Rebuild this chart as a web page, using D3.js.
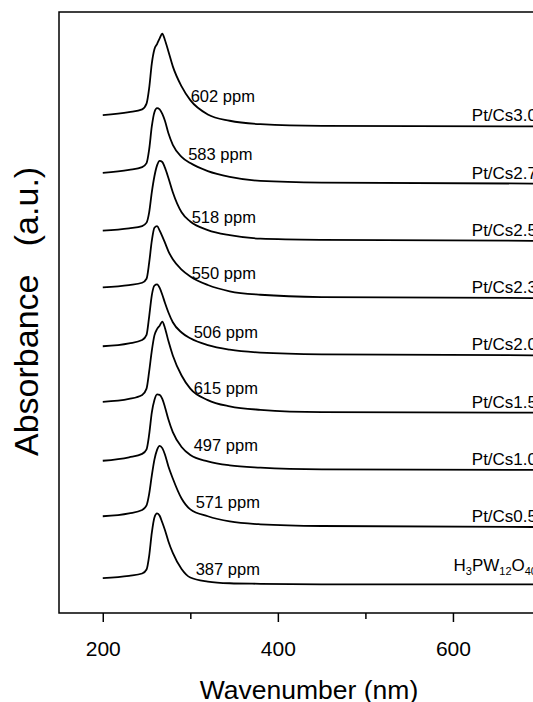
<!DOCTYPE html>
<html>
<head>
<meta charset="utf-8">
<title>UV-vis spectra</title>
<script src="https://d3js.org/d3.v7.min.js"></script>
<style>
  body { margin: 0; background: #fff; }
  text { font-family: "Liberation Sans", Arial, Helvetica, sans-serif; fill: #000; }
</style>
</head>
<body>
<svg id="chart" width="533" height="702"></svg>
<script>
// wavelength grid (nm) used for every spectrum
var wavelength = [200, 230, 245, 250, 253, 256, 259, 262, 265, 268, 271, 275, 280, 290, 300, 320, 345, 380, 450, 720];

// absorbance above each trace's own baseline (a.u.)
var h3pw = [0.11, 0.15, 0.19, 0.26, 0.50, 0.90, 1.17, 1.24, 1.20, 1.08, 0.95, 0.75, 0.55, 0.27, 0.12, 0.05, 0.02, 0.01, 0.00, 0.00];
var cs05 = [0.19, 0.24, 0.30, 0.38, 0.58, 0.90, 1.18, 1.35, 1.42, 1.38, 1.27, 1.06, 0.85, 0.50, 0.31, 0.19, 0.10, 0.05, 0.02, 0.00];
var cs10 = [0.16, 0.22, 0.28, 0.36, 0.62, 1.00, 1.22, 1.32, 1.31, 1.24, 1.10, 0.88, 0.66, 0.40, 0.26, 0.15, 0.08, 0.04, 0.01, 0.00];
var cs15 = [0.19, 0.24, 0.31, 0.42, 0.72, 1.08, 1.35, 1.46, 1.52, 1.59, 1.48, 1.25, 1.00, 0.65, 0.42, 0.22, 0.11, 0.05, 0.01, 0.00];
var cs20 = [0.16, 0.21, 0.27, 0.36, 0.68, 1.05, 1.22, 1.24, 1.18, 1.06, 0.92, 0.75, 0.58, 0.40, 0.30, 0.18, 0.10, 0.05, 0.02, 0.00];
var cs23 = [0.19, 0.23, 0.27, 0.34, 0.62, 1.00, 1.23, 1.26, 1.18, 1.08, 0.97, 0.82, 0.68, 0.50, 0.38, 0.23, 0.12, 0.06, 0.02, 0.00];
var cs25 = [0.18, 0.22, 0.26, 0.32, 0.50, 0.85, 1.13, 1.32, 1.40, 1.38, 1.28, 1.10, 0.85, 0.50, 0.34, 0.19, 0.10, 0.04, 0.02, 0.00];
var cs27 = [0.19, 0.24, 0.29, 0.36, 0.60, 1.00, 1.25, 1.32, 1.30, 1.22, 1.10, 0.88, 0.68, 0.47, 0.36, 0.22, 0.12, 0.05, 0.02, 0.00];
var cs30 = [0.20, 0.25, 0.30, 0.40, 0.67, 1.10, 1.35, 1.44, 1.54, 1.62, 1.51, 1.31, 1.05, 0.70, 0.46, 0.21, 0.10, 0.04, 0.01, 0.00];

var spectra = [h3pw, cs05, cs10, cs15, cs20, cs23, cs25, cs27, cs30];
var samples = ["H3PW12O40", "Pt/Cs0.5", "Pt/Cs1.0", "Pt/Cs1.5", "Pt/Cs2.0", "Pt/Cs2.3", "Pt/Cs2.5", "Pt/Cs2.7", "Pt/Cs3.0"];
var ppm = [387, 571, 497, 615, 506, 550, 518, 583, 602];

var majorTicks = [200, 400, 600];
var minorTicks = [300, 500, 700];

// hand placement of the ppm notes (px), as in the original figure
var noteDx = [1, 1, -1, -1, -1, -3, -3, -6.5, -4];
var noteLift = [9, 19, 19, 19, 17, 19, 18, 24, 24];

var svg = d3.select("#chart");
var mLeft = 59, mTop = 12, mBottom = 613, mRight = 558;

var x = d3.scaleLinear().domain([150, 720]).range([mLeft, mRight]);
var y = d3.scaleLinear().domain([0, 10.5]).range([mBottom, mTop]);

var line = d3.line()
    .x(function(d) { return x(d[0]); })
    .y(function(d) { return y(d[1]); })
    .curve(d3.curveMonotoneX);

spectra.forEach(function(vals, i) {
    var off = i + 0.5;
    var pts = wavelength.map(function(w, k) { return [w, vals[k] + off]; });
    svg.append("path")
        .attr("d", line(pts))
        .attr("fill", "none")
        .attr("stroke", "#000")
        .attr("stroke-width", 1.8)
        .attr("stroke-linejoin", "round");

    svg.append("text")
        .attr("x", x(305) + noteDx[i])
        .attr("y", y(off) - noteLift[i])
        .attr("font-size", 16.5)
        .text(ppm[i] + " ppm");

    var lab = svg.append("text")
        .attr("x", 537)
        .attr("y", y(off) - (i === 0 ? 13 : 5))
        .attr("font-size", 17)
        .attr("text-anchor", "end");
    if (i === 0) {
        lab.append("tspan").text("H");
        lab.append("tspan").attr("font-size", 11).attr("dy", 4).text("3");
        lab.append("tspan").attr("dy", -4).text("PW");
        lab.append("tspan").attr("font-size", 11).attr("dy", 4).text("12");
        lab.append("tspan").attr("dy", -4).text("O");
        lab.append("tspan").attr("font-size", 11).attr("dy", 4).text("40");
    } else {
        lab.text(samples[i]);
    }
});

// frame (right side falls outside the picture)
svg.append("path")
    .attr("d", "M" + (mRight + 40) + "," + mTop + "H" + mLeft + "V" + mBottom + "H" + (mRight + 40))
    .attr("fill", "none")
    .attr("stroke", "#000")
    .attr("stroke-width", 1.5);

var xAxis = d3.axisBottom(x).tickValues(majorTicks).tickSize(9).tickPadding(19).tickFormat(d3.format("d"));
var gx = svg.append("g").attr("transform", "translate(0," + mBottom + ")").call(xAxis);
gx.select(".domain").remove();
gx.selectAll("line").attr("stroke-width", 1.5);
gx.selectAll("text").attr("font-size", 21).attr("font-family", "Liberation Sans, Arial, sans-serif");

var gm = svg.append("g").attr("transform", "translate(0," + mBottom + ")")
    .call(d3.axisBottom(x).tickValues(minorTicks).tickSize(6).tickFormat(""));
gm.select(".domain").remove();
gm.selectAll("line").attr("stroke-width", 1.5);

svg.append("text")
    .attr("x", 309)
    .attr("y", 699)
    .attr("font-size", 26.5)
    .attr("text-anchor", "middle")
    .text("Wavenumber (nm)");

svg.append("text")
    .attr("transform", "translate(38,456) rotate(-90)")
    .attr("font-size", 34)
    .attr("text-anchor", "start")
    .style("white-space", "pre")
    .text("Absorbance   (a.u.)");
</script>
</body>
</html>
